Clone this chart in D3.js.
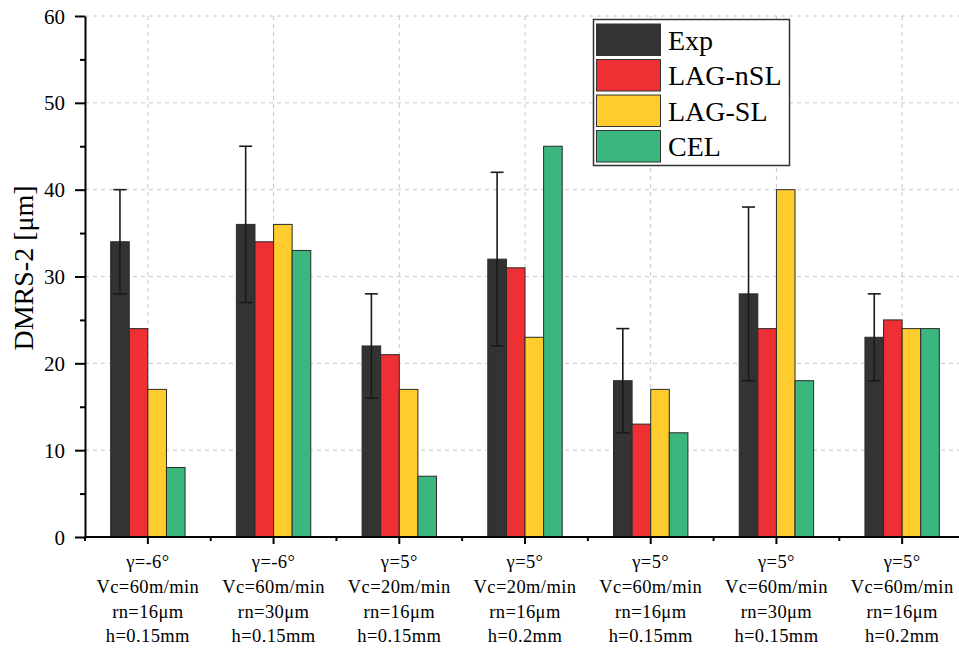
<!DOCTYPE html>
<html>
<head>
<meta charset="utf-8">
<script src="https://cdn.jsdelivr.net/npm/d3@7"></script>
<style>
  body { margin: 0; background: #fff; }
  text { font-family: "Liberation Serif", "Times New Roman", serif; fill: #000; }
</style>
</head>
<body>
<script>
// categories (multi-line x labels)
var categories = ["c1", "c2", "c3", "c4", "c5", "c6", "c7"];
var catLabels = [
  ["γ=-6°", "Vc=60m/min", "rn=16μm", "h=0.15mm"],
  ["γ=-6°", "Vc=60m/min", "rn=30μm", "h=0.15mm"],
  ["γ=5°", "Vc=20m/min", "rn=16μm", "h=0.15mm"],
  ["γ=5°", "Vc=20m/min", "rn=16μm", "h=0.2mm"],
  ["γ=5°", "Vc=60m/min", "rn=16μm", "h=0.15mm"],
  ["γ=5°", "Vc=60m/min", "rn=30μm", "h=0.15mm"],
  ["γ=5°", "Vc=60m/min", "rn=16μm", "h=0.2mm"]
];
var seriesNames = ["Exp", "LAG-nSL", "LAG-SL", "CEL"];
var seriesColors = ["#333333", "#ee2f33", "#ffcc2e", "#3bb77e"];

var expValues = [34, 36, 22, 32, 18, 28, 23];
var expErr = [6, 9, 6, 10, 6, 10, 5];
var lagNslValues = [24, 34, 21, 31, 13, 24, 25];
var lagSlValues = [17, 36, 17, 23, 17, 40, 24];
var celValues = [8, 33, 7, 45, 12, 18, 24];

var yTicks = [0, 10, 20, 30, 40, 50, 60];
var yMinorTicks = [5, 15, 25, 35, 45, 55];

var seriesValues = [expValues, lagNslValues, lagSlValues, celValues];

var W = 959, H = 649;
var pLeft = 85, pRight = 965, pTop = 16, pBottom = 537;

var svg = d3.select("body").append("svg")
  .attr("width", W)
  .attr("height", H);

var y = d3.scaleLinear().domain([0, 60]).range([pBottom, pTop]);
var x0 = d3.scaleBand().domain(categories).range([pLeft, pRight]).padding(0);
var groupW = 74.4;
var x1 = d3.scaleBand().domain(seriesNames)
  .range([(x0.bandwidth() - groupW) / 2, (x0.bandwidth() + groupW) / 2]);

// grid
var grid = svg.append("g").attr("class", "grid");
grid.selectAll("line.h")
  .data(yTicks.slice(1))
  .enter().append("line")
  .attr("x1", pLeft).attr("x2", W)
  .attr("y1", function(d) { return y(d); })
  .attr("y2", function(d) { return y(d); })
  .style("stroke", "#c8c8c8")
  .style("stroke-width", 1)
  .style("stroke-dasharray", "4,4");
grid.selectAll("line.v")
  .data(categories)
  .enter().append("line")
  .attr("x1", function(d) { return x0(d) + x0.bandwidth() / 2; })
  .attr("x2", function(d) { return x0(d) + x0.bandwidth() / 2; })
  .attr("y1", pTop).attr("y2", pBottom)
  .style("stroke", "#c8c8c8")
  .style("stroke-width", 1)
  .style("stroke-dasharray", "4,4");

// bars
var groups = svg.selectAll("g.cat")
  .data(categories)
  .enter().append("g")
  .attr("class", "cat")
  .attr("transform", function(d) { return "translate(" + x0(d) + ",0)"; });

groups.selectAll("rect")
  .data(function(d, i) {
    return seriesNames.map(function(s, j) { return {s: s, j: j, v: seriesValues[j][i]}; });
  })
  .enter().append("rect")
  .attr("x", function(d) { return x1(d.s); })
  .attr("y", function(d) { return y(d.v); })
  .attr("width", x1.bandwidth())
  .attr("height", function(d) { return y(0) - y(d.v); })
  .style("fill", function(d) { return seriesColors[d.j]; })
  .style("stroke", "#2a2a2a")
  .style("stroke-width", 1);

// error bars on Exp
var err = groups.append("g")
  .attr("transform", function() { return "translate(" + (x1("Exp") + x1.bandwidth() / 2) + ",0)"; })
  .style("stroke", "#1a1a1a")
  .style("stroke-width", 1.6);
err.append("line")
  .attr("x1", 0).attr("x2", 0)
  .attr("y1", function(d, i) { return y(expValues[i] - expErr[i]); })
  .attr("y2", function(d, i) { return y(expValues[i] + expErr[i]); });
err.append("line")
  .attr("x1", -6.5).attr("x2", 6.5)
  .attr("y1", function(d, i) { return y(expValues[i] + expErr[i]); })
  .attr("y2", function(d, i) { return y(expValues[i] + expErr[i]); });
err.append("line")
  .attr("x1", -6.5).attr("x2", 6.5)
  .attr("y1", function(d, i) { return y(expValues[i] - expErr[i]); })
  .attr("y2", function(d, i) { return y(expValues[i] - expErr[i]); });

// y axis
var yAxis = svg.append("g")
  .attr("transform", "translate(" + pLeft + ",0)")
  .call(d3.axisLeft(y).tickValues(yTicks).tickSize(10).tickSizeOuter(0).tickPadding(10));
svg.append("g")
  .attr("transform", "translate(" + pLeft + ",0)")
  .call(d3.axisLeft(y).tickValues(yMinorTicks).tickSize(5).tickSizeOuter(0).tickFormat(""))
  .select(".domain").remove();
yAxis.selectAll("text")
  .style("font-family", "Liberation Serif")
  .style("font-size", "21px")
  .attr("dy", "0.34em");

// x axis
var xAxis = svg.append("g")
  .attr("transform", "translate(0," + pBottom + ")")
  .call(d3.axisBottom(x0).tickSize(7).tickSizeOuter(0).tickFormat(""));
xAxis.select(".domain").attr("d", "M" + pLeft + ",0H" + W);
svg.append("g").selectAll("line")
  .data(categories)
  .enter().append("line")
  .attr("x1", function(d) { return x0(d); })
  .attr("x2", function(d) { return x0(d); })
  .attr("y1", pBottom).attr("y2", pBottom + 4)
  .style("stroke", "#000").style("stroke-width", 2);

svg.selectAll(".domain").style("stroke-width", 2);
svg.selectAll(".tick line").style("stroke-width", 2);

// x labels
var lineY = [568, 593, 618, 642];
svg.append("g").selectAll("text")
  .data(categories)
  .enter().append("text")
  .attr("text-anchor", "middle")
  .style("font-size", "18.5px")
  .style("letter-spacing", "0.4px")
  .each(function(d, i) {
    var t = d3.select(this);
    catLabels[i].forEach(function(line, k) {
      t.append("tspan")
        .attr("x", x0(d) + x0.bandwidth() / 2)
        .attr("y", lineY[k])
        .text(line);
    });
  });

// y title
svg.append("text")
  .attr("transform", "translate(33,268) rotate(-90)")
  .attr("text-anchor", "middle")
  .style("font-size", "28px")
  .text("DMRS-2 [μm]");

// legend
var legend = svg.append("g").attr("transform", "translate(593.5,19.5)");
legend.append("rect")
  .attr("width", 196).attr("height", 146)
  .style("fill", "#fff")
  .style("stroke", "#333")
  .style("stroke-width", 1.5);
var items = legend.selectAll("g.item")
  .data(seriesNames)
  .enter().append("g")
  .attr("transform", function(d, i) { return "translate(3," + (4.5 + i * 35.5) + ")"; });
items.append("rect")
  .attr("width", 64).attr("height", 31.5)
  .style("fill", function(d, i) { return seriesColors[i]; })
  .style("stroke", "#333")
  .style("stroke-width", 1);
items.append("text")
  .attr("x", 71.5).attr("y", 25.5)
  .style("font-size", "28px")
  .text(function(d) { return d; });
</script>
</body>
</html>
